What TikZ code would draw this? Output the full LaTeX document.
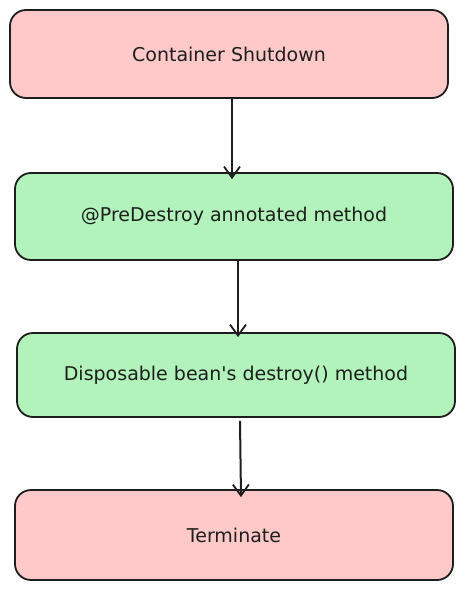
\documentclass[tikz,border=0pt]{standalone}
\usepackage{fontspec}
\setmainfont{DejaVu Sans}
\usepackage{tikz}
\usetikzlibrary{arrows.meta}

\definecolor{stepred}{HTML}{FFC9C9}
\definecolor{stepgreen}{HTML}{B2F2BB}
\definecolor{ink}{HTML}{1E1E1E}

\begin{document}
\begin{tikzpicture}[x=1pt, y=-1pt]
  \tikzset{
    stepbox/.style={draw=ink, line width=1.8pt, rounded corners=16pt,
      minimum width=438pt, text=ink, font=\fontsize{19}{22}\selectfont},
    flow/.style={draw=ink, line width=2pt, -{Straight Barb[length=11pt, width=16pt, line width=1.8pt]}}
  }
  \useasboundingbox (0,0) rectangle (464,589);
  \node[stepbox, fill=stepred, minimum height=88pt] (shutdown) at (229,54) {Container Shutdown};
  \node[stepbox, fill=stepgreen, minimum height=87pt] (predestroy) at (234,216.5) {@PreDestroy annotated method};
  \node[stepbox, fill=stepgreen, minimum height=84pt] (destroy) at (236,375) {Disposable bean\textquotesingle s destroy() method};
  \node[stepbox, fill=stepred, minimum height=90pt] (terminate) at (234,535) {Terminate};
  \draw[flow] ([xshift=3pt]shutdown.south) -- ([xshift=-2pt, yshift=-7pt]predestroy.north);
  \draw[flow] ([xshift=4pt]predestroy.south) -- ([xshift=2pt, yshift=-5pt]destroy.north);
  \draw[flow] ([xshift=4pt, yshift=-3pt]destroy.south) -- ([xshift=7pt, yshift=-8pt]terminate.north);
\end{tikzpicture}
\end{document}
